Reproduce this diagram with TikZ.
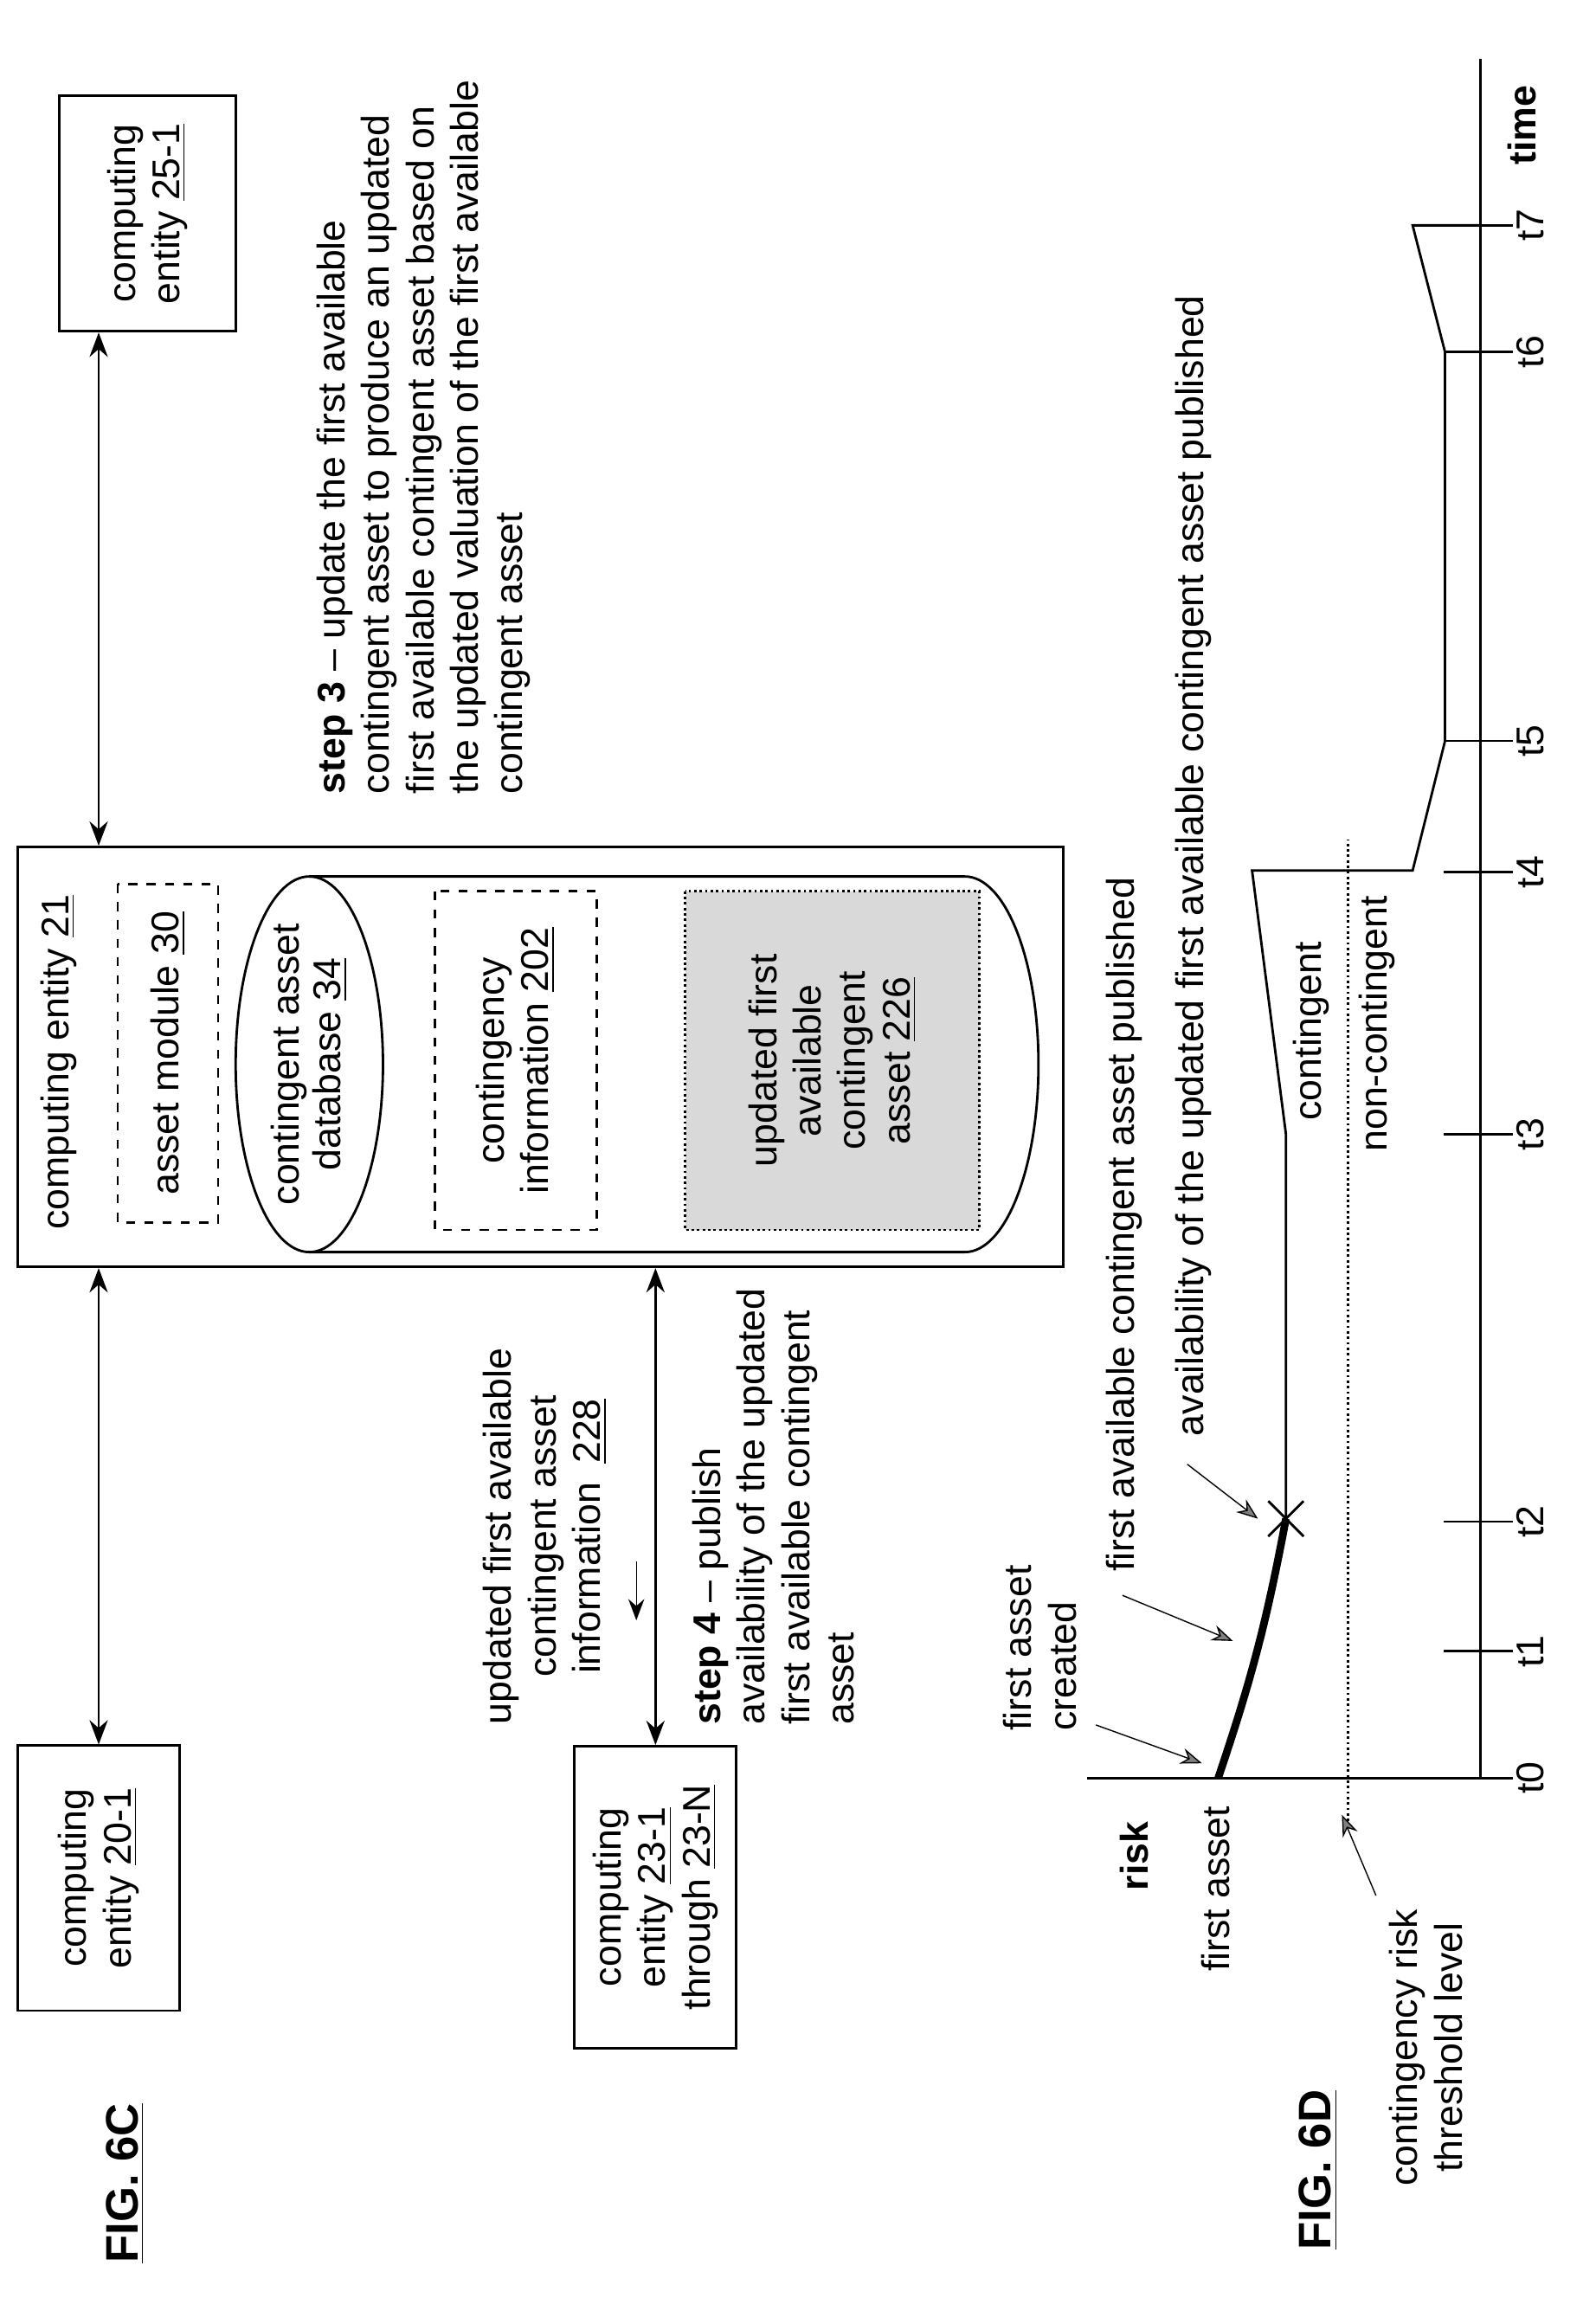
\documentclass[tikz,border=0pt]{standalone}
\usepackage{fontspec}
\setmainfont{Liberation Sans}
\usetikzlibrary{arrows.meta}
\tikzset{
    box/.style = {draw, thick, align=center, inner sep=0pt},
    dbox/.style = {draw, thick, dashed, align=center, inner sep=0pt},
    link/.style = {thick, {Stealth[length=8pt]}-{Stealth[length=8pt]}},
    pointer/.style = {-{Stealth[length=7pt,open,fill=gray]}},
    fig/.style = {font=\fontsize{15}{17}\selectfont\bfseries},
}
\begin{document}
\fontsize{12.7}{14.6}\selectfont
\begin{tikzpicture}
    [
        x = 0.01702cm, y = 0.01702cm,
    ]
    \begin{scope}[rotate=90, transform shape]
    \useasboundingbox (0,0) rectangle (1560,1083);

    % FIG. 6C
    \node[fig] (fig6c) at (78,998) {\underline{FIG. 6C}};
    \node[box, minimum width=3.06cm, minimum height=1.87cm] (ent20) at (285,1016)
        {computing\\entity \underline{20-1}};
    \node[box, minimum width=2.72cm, minimum height=2.04cm] (ent25) at (1415,983)
        {computing\\entity \underline{25-1}};
    \node[box, minimum width=3.49cm, minimum height=1.87cm] (ent23) at (272,638)
        {computing\\entity \underline{23-1}\\through \underline{23-N}};
    \node[box, minimum width=4.85cm, minimum height=12.08cm] (ent21) at (842.5,716) {};
    \node[anchor=west] (ent21lbl) at (716,1043) {computing entity \underline{21}};
    \node[dbox, minimum width=3.91cm, minimum height=1.16cm] (module) at (845,969)
        {asset module \underline{30}};

    % database cylinder
    \draw[thick] (710,873) -- (710,428) arc[start angle=180, end angle=360, x radius=127.5, y radius=50]
        -- (965,873);
    \draw[thick] (837.5,873) ellipse[x radius=127.5, y radius=50];
    \node[align=center] (db) at (837.5,873) {contingent asset\\[-1pt]database \underline{34}};
    \node[dbox, minimum width=3.91cm, minimum height=1.87cm, fill=white] (info) at (840,733)
        {contingency\\information \underline{202}};
    \node[draw, thick, densely dotted, fill=gray!30, align=center, inner sep=0pt,
        minimum width=3.91cm, minimum height=3.4cm] (upd) at (840,518)
        {updated first\\available\\contingent\\asset \underline{226}};

    \draw[link] (ent20.east) -- (ent20.east -| ent21.west);
    \draw[link] (ent21.east |- ent20.east) -- (ent25.west |- ent20.east);
    \draw[link] (ent23.east) -- (ent23.east -| ent21.west);

    \node[align=center] (info228) at (517,713)
        {updated first available\\contingent asset\\information\enspace\underline{228}};
    \coordinate (flowA) at (500,651);
    \coordinate (flowB) at (460,651);
    \draw[-{Stealth[length=7pt]}] (flowA) -- (flowB);
    \node[anchor=north west, align=left] (step4) at (380,622)
        {\textbf{step 4} -- publish\\availability of the updated\\first available contingent\\asset};
    \node[anchor=north west, align=left] (step3) at (1012,877)
        {\textbf{step 3} -- update the first available\\contingent asset to produce an updated\\first available contingent asset based on\\the updated valuation of the first available\\contingent asset};

    % FIG. 6D
    \node[fig] (fig6d) at (87,188) {\underline{FIG. 6D}};
    \coordinate (origin) at (353,78);
    \coordinate (riskend) at (353,345);
    \coordinate (timeend) at (1520,78);
    \draw[thick] (riskend) -- (origin) -- (timeend);
    \foreach \t/\x in {0/353,1/439,2/527,3/790,4/968,5/1057,6/1321,7/1407}{
        \draw[thick] (\x,56) -- (\x,103);
        \node (t\t) at (\x,44) {t\t};
    }
    \node[font=\bfseries] (time) at (1475,50) {time};
    \node[font=\bfseries] (risk) at (300,313) {risk};
    \node[anchor=east] (firstasset) at (343,258) {first asset};

    \draw[thick, densely dotted] (320,168) -- (990,168);
    \node[align=center] (threshold) at (170,115) {contingency risk\\threshold level};
    \draw[pointer] (threshold.north east) -- (328,172);
    \node (cont) at (860,193) {contingent};
    \node (noncont) at (865,148) {non-contingent};

    \coordinate (created) at (353,256);
    \coordinate (xmark) at (529,210);
    \draw[line width=2.5pt] (created) to[bend right=4] (xmark);
    \draw[thick] (xmark) ++(-12,-12) -- ++(24,24) (xmark) ++(-12,12) -- ++(24,-24);
    \draw[thick] (xmark) -- (790,210) -- (969,233) -- (969,124) -- (1057,102)
        -- (1321,102) -- (1407,124) -- (1407,78);

    \node[anchor=west, align=left] (createdlbl) at (376,377) {first asset\\created};
    \draw[pointer] (389,339) -- (363,267);
    \node[anchor=west] (publbl) at (484,320) {first available contingent asset published};
    \draw[pointer] (477,321) -- (446,246);
    \node[anchor=west] (avail) at (576,273)
        {availability of the updated first available contingent asset published};
    \draw[pointer] (566,277) -- (529,229);
    \end{scope}
\end{tikzpicture}
\end{document}
